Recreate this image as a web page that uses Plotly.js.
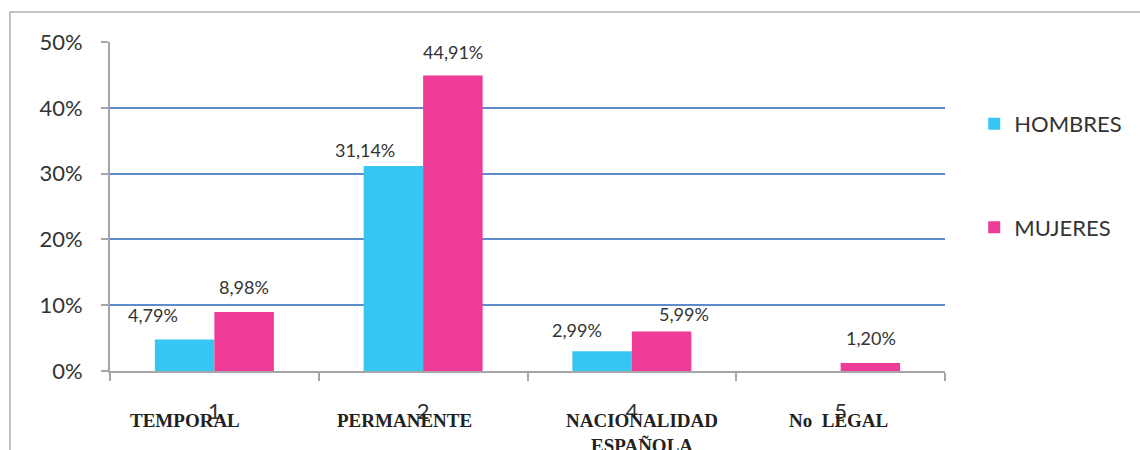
<!DOCTYPE html>
<html>
<head>
<meta charset="utf-8">
<script src="https://cdn.plot.ly/plotly-3.0.1.min.js"></script>
<style>html,body{margin:0;padding:0;background:#fff;}#chart{width:1140px;height:450px;}</style>
</head>
<body>
<div id="chart"></div>
<script>
// Data
var categories = ["1", "2", "4", "5"];
var categoryNames = ["TEMPORAL", "PERMANENTE", "NACIONALIDAD<br>ESPAÑOLA", "No  LEGAL"];
var hombres = [0.0479, 0.3114, 0.0299, 0];
var mujeres = [0.0898, 0.4491, 0.0599, 0.0120];
var seriesNames = ["HOMBRES", "MUJERES"];
var yTickVals = [0, 0.1, 0.2, 0.3, 0.4, 0.5];

function fmt(v) {
  return (v * 100).toFixed(2).replace(".", ",") + "%";
}

var baseFont = "Lato, 'Open Sans', sans-serif";
var textColor = "#333333";
var labelFont = {family: baseFont, size: 18, color: textColor};

var traces = [
  {
    type: "bar", name: seriesNames[0], x: categories, y: hombres,
    marker: {color: "#35C6F4"}, legendgroup: "h", hoverinfo: "skip"
  },
  {
    type: "bar", name: seriesNames[1], x: categories, y: mujeres,
    marker: {color: "#EE3B96"}, legendgroup: "m", hoverinfo: "skip"
  }
];

// Data-label placement (layout only): [xshift, yshift(up)] per bar
var barHalf = 29.5;
var hLabelShift = [[-32, 24], [-29, 16], [-25, 21], [0, 0]];
var mLabelShift = [[0, 25], [0, 23], [23, 18], [1, 25]];

var annotations = [];
[[hombres, -barHalf, hLabelShift], [mujeres, barHalf, mLabelShift]].forEach(function (s) {
  s[0].forEach(function (v, i) {
    if (v === 0) return;
    annotations.push({
      x: i, xref: "x", y: v, yref: "y",
      xanchor: "center", yanchor: "middle",
      xshift: s[1] + s[2][i][0], yshift: s[2][i][1],
      text: fmt(v), showarrow: false, font: labelFont
    });
  });
});

// Category name labels
var nameShifts = [-29, -19, 10, -2];
categoryNames.forEach(function (n, i) {
  annotations.push({
    x: i, xref: "x", y: -0.112, yref: "paper",
    yanchor: "top", xanchor: "center", xshift: nameShifts[i],
    text: "<b>" + n + "</b>", showarrow: false,
    font: {family: "'Liberation Serif', 'DejaVu Serif', serif", size: 19, color: "#222222"}
  });
});

var layout = {
  width: 1140, height: 450,
  margin: {l: 110, r: 195, t: 42, b: 79},
  paper_bgcolor: "#ffffff", plot_bgcolor: "#ffffff",
  font: {family: baseFont, color: textColor},
  barmode: "group", bargap: 0.43, bargroupgap: 0,
  showlegend: true,
  legend: {
    x: 1.035, y: 0.815, xanchor: "left", yanchor: "top",
    font: {family: baseFont, size: 22, color: textColor},
    tracegroupgap: 72, traceorder: "grouped", bgcolor: "rgba(0,0,0,0)"
  },
  xaxis: {
    type: "category", categoryarray: categories, categoryorder: "array",
    range: [-0.5, categories.length - 0.5],
    showline: true, linecolor: "#A6A6A6", linewidth: 2,
    ticks: "outside", tickson: "boundaries", ticklen: 8, tickcolor: "#A6A6A6", tickwidth: 2,
    tickfont: {family: baseFont, size: 22, color: textColor},
    ticklabelstandoff: 20, showgrid: false, zeroline: false, fixedrange: true
  },
  yaxis: {
    range: [0, 0.5], tickvals: yTickVals, tickformat: ".0%",
    showline: true, linecolor: "#A6A6A6", linewidth: 2,
    ticks: "outside", ticklen: 7, tickcolor: "#A6A6A6", tickwidth: 2,
    tickfont: {family: baseFont, size: 22, color: textColor},
    ticklabelstandoff: 14,
    showgrid: true, gridcolor: "#5E8CCB", gridwidth: 2,
    zeroline: false, fixedrange: true
  },
  annotations: annotations,
  shapes: [{
    type: "rect", xref: "paper", yref: "paper",
    x0: -0.1198, x1: 1.5, y0: -0.6, y1: 1.0912,
    line: {color: "#B0B0B0", width: 1.5}, layer: "below"
  }]
};

Plotly.newPlot("chart", traces, layout, {displayModeBar: false, staticPlot: true});
</script>
</body>
</html>
